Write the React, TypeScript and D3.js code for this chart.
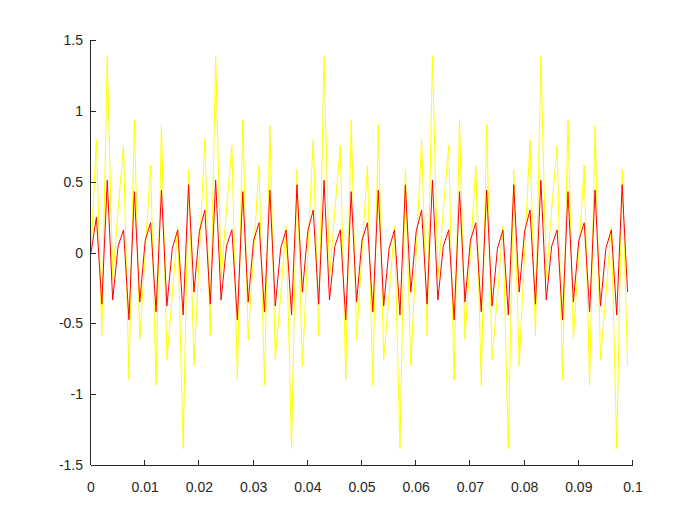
import React from "react";
import * as d3 from "d3";

// Sample times: 100 samples, 1 ms apart (0 .. 0.099 s)
const sampleStep = 0.001;

// Yellow series (raw signal)
const yellowValues = [
  0, 0.798, -0.585, 1.384, -0.185, 0.3, 0.756, -0.899, 0.937, -0.613,
  0, 0.613, -0.937, 0.899, -0.756, -0.3, 0.185, -1.384, 0.585, -0.798,
  0, 0.798, -0.585, 1.384, -0.185, 0.3, 0.756, -0.899, 0.937, -0.613,
  0, 0.613, -0.937, 0.899, -0.756, -0.3, 0.185, -1.384, 0.585, -0.798,
  0, 0.798, -0.585, 1.384, -0.185, 0.3, 0.756, -0.899, 0.937, -0.613,
  0, 0.613, -0.937, 0.899, -0.756, -0.3, 0.185, -1.384, 0.585, -0.798,
  0, 0.798, -0.585, 1.384, -0.185, 0.3, 0.756, -0.899, 0.937, -0.613,
  0, 0.613, -0.937, 0.899, -0.756, -0.3, 0.185, -1.384, 0.585, -0.798,
  0, 0.798, -0.585, 1.384, -0.185, 0.3, 0.756, -0.899, 0.937, -0.613,
  0, 0.613, -0.937, 0.899, -0.756, -0.3, 0.185, -1.384, 0.585, -0.798,
];

// Red series (filtered signal)
const redValues = [
  0, 0.25, -0.365, 0.51, -0.335, 0.045, 0.16, -0.475, 0.43, -0.35,
  0.085, 0.21, -0.418, 0.441, -0.378, 0.03, 0.159, -0.441, 0.478, -0.28,
  0.15, 0.3, -0.365, 0.51, -0.335, 0.045, 0.16, -0.475, 0.43, -0.35,
  0.085, 0.21, -0.418, 0.441, -0.378, 0.03, 0.159, -0.441, 0.478, -0.28,
  0.15, 0.3, -0.365, 0.51, -0.335, 0.045, 0.16, -0.475, 0.43, -0.35,
  0.085, 0.21, -0.418, 0.441, -0.378, 0.03, 0.159, -0.441, 0.478, -0.28,
  0.15, 0.3, -0.365, 0.51, -0.335, 0.045, 0.16, -0.475, 0.43, -0.35,
  0.085, 0.21, -0.418, 0.441, -0.378, 0.03, 0.159, -0.441, 0.478, -0.28,
  0.15, 0.3, -0.365, 0.51, -0.335, 0.045, 0.16, -0.475, 0.43, -0.35,
  0.085, 0.21, -0.418, 0.441, -0.378, 0.03, 0.159, -0.441, 0.478, -0.28,
];

const xTicks = [0, 0.01, 0.02, 0.03, 0.04, 0.05, 0.06, 0.07, 0.08, 0.09, 0.1];
const xTickLabels = ["0", "0.01", "0.02", "0.03", "0.04", "0.05", "0.06", "0.07", "0.08", "0.09", "0.1"];
const yTicks = [-1.5, -1, -0.5, 0, 0.5, 1, 1.5];
const yTickLabels = ["-1.5", "-1", "-0.5", "0", "0.5", "1", "1.5"];

const W = 700;
const H = 525;
const margin = { left: 91, right: 67, top: 40, bottom: 60 };

export default function App() {
  const x = d3.scaleLinear().domain([0, 0.1]).range([margin.left, W - margin.right]);
  const y = d3.scaleLinear().domain([-1.5, 1.5]).range([H - margin.bottom, margin.top]);

  const line = d3
    .line<number>()
    .x((_, i) => x(i * sampleStep))
    .y((d) => y(d));

  const axisColor = "#262626";
  const font = "'Liberation Sans', Arial, sans-serif";
  const tickLen = 5;

  return (
    <svg
      width={W}
      height={H}
      style={{ position: "absolute", left: 0, top: 0, background: "#fff" }}
    >
      <rect x={0} y={0} width={W} height={H} fill="#fff" />
      <path d={line(yellowValues) || ""} fill="none" stroke="#ffff00" strokeWidth={1} />
      <path d={line(redValues) || ""} fill="none" stroke="#ff0000" strokeWidth={1} />

      {/* axes lines */}
      <line
        x1={margin.left}
        x2={W - margin.right}
        y1={H - margin.bottom + 0.5}
        y2={H - margin.bottom + 0.5}
        stroke={axisColor}
        strokeWidth={1}
      />
      <line
        x1={margin.left - 0.5}
        x2={margin.left - 0.5}
        y1={margin.top}
        y2={H - margin.bottom}
        stroke={axisColor}
        strokeWidth={1}
      />

      {xTicks.map((t, i) => (
        <g key={"x" + i}>
          <line
            x1={Math.round(x(t)) - 0.5}
            x2={Math.round(x(t)) - 0.5}
            y1={H - margin.bottom}
            y2={H - margin.bottom - tickLen}
            stroke={axisColor}
            strokeWidth={1}
          />
          <text
            x={x(t)}
            y={H - margin.bottom + 27}
            textAnchor="middle"
            fontFamily={font}
            fontSize={14}
            fill={axisColor}
          >
            {xTickLabels[i]}
          </text>
        </g>
      ))}

      {yTicks.map((t, i) => (
        <g key={"y" + i}>
          <line
            x1={margin.left}
            x2={margin.left + tickLen}
            y1={Math.round(y(t)) + 0.5}
            y2={Math.round(y(t)) + 0.5}
            stroke={axisColor}
            strokeWidth={1}
          />
          <text
            x={margin.left - 8}
            y={y(t) + 5}
            textAnchor="end"
            fontFamily={font}
            fontSize={14}
            fill={axisColor}
          >
            {yTickLabels[i]}
          </text>
        </g>
      ))}
    </svg>
  );
}
